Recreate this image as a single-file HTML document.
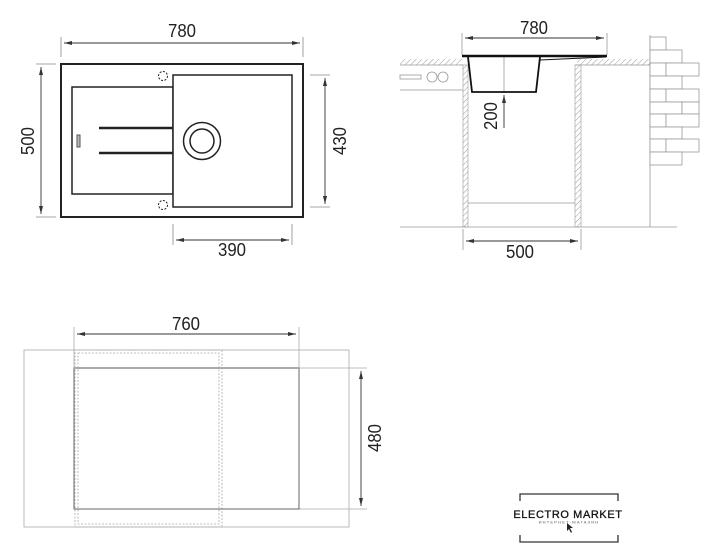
<!DOCTYPE html>
<html><head><meta charset="utf-8"><style>
html,body{margin:0;padding:0;background:#fff;width:719px;height:548px;overflow:hidden}
svg{display:block}
text{font-family:"Liberation Sans",sans-serif;fill:#222}
</style></head><body>
<svg width="719" height="548" viewBox="0 0 719 548" xmlns="http://www.w3.org/2000/svg">
<defs>
<marker id="a" markerWidth="8" markerHeight="6" refX="8" refY="3" orient="auto-start-reverse" markerUnits="userSpaceOnUse"><path d="M0,1 L8,3 L0,5 Z" fill="#333"/></marker>
<pattern id="h" width="4" height="4" patternUnits="userSpaceOnUse" patternTransform="rotate(45)"><line x1="0" y1="0" x2="0" y2="4" stroke="#999" stroke-width="1"/></pattern>
</defs>
<g stroke="#888" stroke-width="0.8" fill="none">
<line x1="61" y1="37" x2="61" y2="57"/><line x1="303" y1="37" x2="303" y2="57"/>
<line x1="36" y1="64" x2="56" y2="64"/><line x1="36" y1="217" x2="56" y2="217"/>
<line x1="310" y1="75" x2="330" y2="75"/><line x1="310" y1="207" x2="330" y2="207"/>
<line x1="173" y1="224" x2="173" y2="245"/><line x1="292" y1="224" x2="292" y2="245"/>
</g>
<g stroke="#333" stroke-width="0.9" fill="none">
<line x1="64" y1="43" x2="300" y2="43" marker-start="url(#a)" marker-end="url(#a)"/>
<line x1="41" y1="67" x2="41" y2="214" marker-start="url(#a)" marker-end="url(#a)"/>
<line x1="325" y1="78" x2="325" y2="204" marker-start="url(#a)" marker-end="url(#a)"/>
<line x1="176" y1="240" x2="289" y2="240" marker-start="url(#a)" marker-end="url(#a)"/>
</g>
<g stroke="#222" fill="none">
<rect x="61" y="64" width="242" height="153" stroke-width="2"/>
<rect x="72" y="87" width="101" height="107" stroke-width="1.5"/>
<rect x="173" y="75" width="119" height="132" stroke-width="1.5" fill="#fff"/>
<circle cx="202" cy="141" r="18.5" stroke-width="1.5"/>
<circle cx="202" cy="141" r="12" stroke-width="1.5"/>
<line x1="99" y1="128" x2="173" y2="128" stroke-width="2.5"/>
<line x1="99" y1="153" x2="173" y2="153" stroke-width="2.5"/>
<rect x="77" y="135" width="3" height="12" stroke-width="1" stroke="#555" fill="#bbb"/>
<circle cx="163" cy="76" r="4.5" stroke-width="1" stroke-dasharray="2,1.5"/>
<circle cx="163" cy="205" r="4.5" stroke-width="1" stroke-dasharray="2,1.5"/>
</g>
<g font-size="18">
<text x="182" y="37" text-anchor="middle" textLength="28" lengthAdjust="spacingAndGlyphs">780</text>
<text x="232" y="256" text-anchor="middle" textLength="28" lengthAdjust="spacingAndGlyphs">390</text>
<text transform="translate(34,141) rotate(-90)" text-anchor="middle" textLength="28" lengthAdjust="spacingAndGlyphs">500</text>
<text transform="translate(346,141) rotate(-90)" text-anchor="middle" textLength="28" lengthAdjust="spacingAndGlyphs">430</text>
</g>

<rect x="400" y="59" width="62" height="6" fill="url(#h)"/>
<rect x="577" y="59" width="73" height="6" fill="url(#h)"/>
<line x1="400" y1="65" x2="463" y2="65" stroke="#999" stroke-width="0.8"/>
<line x1="575" y1="65" x2="650" y2="65" stroke="#999" stroke-width="0.8"/>
<rect x="463" y="65" width="5" height="162" fill="url(#h)" stroke="#999" stroke-width="0.6"/>
<rect x="575" y="65" width="6" height="162" fill="url(#h)" stroke="#999" stroke-width="0.6"/>
<g stroke="#999" stroke-width="0.8" fill="none">
<line x1="400" y1="227" x2="677" y2="227"/>
<line x1="468" y1="203" x2="575" y2="203"/>
<line x1="400" y1="90" x2="463" y2="90"/>
<rect x="400" y="75" width="21" height="4"/>
<circle cx="432" cy="77" r="5"/><circle cx="443" cy="77" r="5"/>
<line x1="650" y1="35" x2="650" y2="227"/>
<line x1="462" y1="33" x2="462" y2="55"/><line x1="607" y1="33" x2="607" y2="55"/>
<line x1="463" y1="229" x2="463" y2="250"/><line x1="581" y1="229" x2="581" y2="250"/>
<line x1="504" y1="57" x2="504" y2="92"/>
</g>
<g stroke="#999" stroke-width="0.8" fill="#fff">
<rect x="650" y="37" width="16" height="13"/>
<rect x="650" y="50" width="32" height="13"/>
<rect x="650" y="63" width="16" height="13"/><rect x="666" y="63" width="33" height="13"/>
<rect x="650" y="76" width="32" height="13"/>
<rect x="650" y="89" width="16" height="13"/><rect x="666" y="89" width="33" height="13"/>
<rect x="650" y="102" width="32" height="12"/><rect x="682" y="102" width="17" height="12"/>
<rect x="650" y="114" width="16" height="13"/><rect x="666" y="114" width="33" height="13"/>
<rect x="650" y="127" width="32" height="12"/>
<rect x="650" y="139" width="16" height="13"/><rect x="666" y="139" width="33" height="13"/>
<rect x="650" y="152" width="32" height="13"/>
</g>
<g stroke="#111" fill="none">
<line x1="462" y1="56" x2="607" y2="56" stroke-width="2.5"/>
<path d="M468,57 L472,92 L536,92 L540,57" stroke-width="1.8"/>
<path d="M540,60 L606,57" stroke-width="1"/>
</g>
<g stroke="#333" stroke-width="0.9" fill="none">
<line x1="465" y1="38" x2="604" y2="38" marker-start="url(#a)" marker-end="url(#a)"/>
<line x1="466" y1="241" x2="578" y2="241" marker-start="url(#a)" marker-end="url(#a)"/>
<line x1="504" y1="128" x2="504" y2="95" marker-end="url(#a)"/>
</g>
<g font-size="18">
<text x="534" y="34" text-anchor="middle" textLength="28" lengthAdjust="spacingAndGlyphs">780</text>
<text x="520" y="258" text-anchor="middle" textLength="28" lengthAdjust="spacingAndGlyphs">500</text>
<text transform="translate(497,116) rotate(-90)" text-anchor="middle" textLength="28" lengthAdjust="spacingAndGlyphs">200</text>
</g>

<g stroke="#aaa" stroke-width="0.8" fill="none">
<rect x="24" y="350" width="325" height="177"/>
<rect x="75" y="350" width="147" height="177" stroke-dasharray="2,1.5"/>
<rect x="78" y="353" width="141" height="171" stroke-dasharray="2,1.5"/>
<line x1="74" y1="327" x2="74" y2="368"/><line x1="299" y1="327" x2="299" y2="368"/>
<line x1="299" y1="368" x2="367" y2="368"/><line x1="299" y1="509" x2="367" y2="509"/>
</g>
<rect x="74" y="368" width="225" height="141" fill="none" stroke="#555" stroke-width="0.9"/>
<line x1="74" y1="368" x2="299" y2="368" stroke="#aaa" stroke-width="2"/>
<g stroke="#333" stroke-width="0.9" fill="none">
<line x1="77" y1="334" x2="296" y2="334" marker-start="url(#a)" marker-end="url(#a)"/>
<line x1="361" y1="371" x2="361" y2="506" marker-start="url(#a)" marker-end="url(#a)"/>
</g>
<g font-size="18">
<text x="186" y="330" text-anchor="middle" textLength="28" lengthAdjust="spacingAndGlyphs">760</text>
<text transform="translate(381,438) rotate(-90)" text-anchor="middle" textLength="28" lengthAdjust="spacingAndGlyphs">480</text>
</g>

<g stroke="#333" stroke-width="1.3" fill="none">
<path d="M520,501 V494 H618 V501"/>
<path d="M520,535 V542 H618 V535"/>
</g>
<text x="568" y="518" text-anchor="middle" font-size="11" letter-spacing="0.6" style="fill:#111;stroke:#111;stroke-width:0.3">ELECTRO MARKET</text>
<text x="569" y="523.5" text-anchor="middle" font-size="4" letter-spacing="1.2" style="fill:#555">ИНТЕРНЕТ-МАГАЗИН</text>
<path d="M567,523 L567,531 L569,529 L571,533 L572,532 L570,528 L573,528 Z" fill="#222"/>
</svg>
</body></html>
